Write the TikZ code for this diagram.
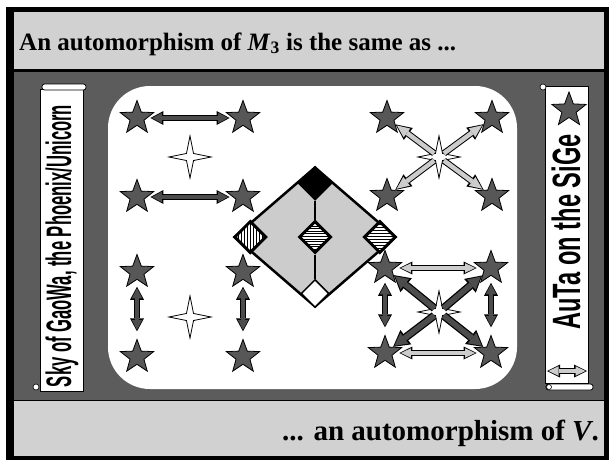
\documentclass[tikz,border=0pt]{standalone}
\usepackage{fontspec}
\setmainfont{Liberation Serif}
\newfontfamily\scrollfont{Liberation Sans}
\usetikzlibrary{arrows.meta, positioning, shapes.geometric, patterns}

\definecolor{bandlight}{gray}{0.82}
\definecolor{banddark}{gray}{0.36}
\definecolor{starfill}{gray}{0.34}
\definecolor{latticefill}{gray}{0.80}
\definecolor{arrowdark}{gray}{0.30}
\definecolor{arrowlight}{gray}{0.80}

% stripes and waves for the atoms
\pgfdeclarepatternformonly{vstripes}{\pgfpoint{0pt}{-0.5pt}}{\pgfpoint{3pt}{3.5pt}}{\pgfpoint{3pt}{3pt}}{
  \pgfsetlinewidth{1.3pt}
  \pgfpathmoveto{\pgfpoint{1.5pt}{-0.5pt}}
  \pgfpathlineto{\pgfpoint{1.5pt}{3.5pt}}
  \pgfusepath{stroke}}
\pgfdeclarepatternformonly{hstripes}{\pgfpoint{-0.5pt}{0pt}}{\pgfpoint{3.5pt}{3pt}}{\pgfpoint{3pt}{3pt}}{
  \pgfsetlinewidth{1.3pt}
  \pgfpathmoveto{\pgfpoint{-0.5pt}{1.5pt}}
  \pgfpathlineto{\pgfpoint{3.5pt}{1.5pt}}
  \pgfusepath{stroke}}
\pgfdeclarepatternformonly{waves}{\pgfpoint{0pt}{-1pt}}{\pgfpoint{4pt}{2.2pt}}{\pgfpoint{4pt}{2.6pt}}{
  \pgfsetlinewidth{0.7pt}
  \pgfpathmoveto{\pgfpoint{0pt}{0.5pt}}
  \pgfpathcurveto{\pgfpoint{0.7pt}{1.4pt}}{\pgfpoint{1.3pt}{1.4pt}}{\pgfpoint{2pt}{0.5pt}}
  \pgfpathcurveto{\pgfpoint{2.7pt}{-0.4pt}}{\pgfpoint{3.3pt}{-0.4pt}}{\pgfpoint{4pt}{0.5pt}}
  \pgfusepath{stroke}}

\begin{document}
\begin{tikzpicture}[
        x=1pt, y=-1pt,
        fivestar/.style={star, star points=5, star point ratio=2.4, minimum size=35pt, inner sep=0pt, draw=black, line width=0.8pt, fill=starfill},
        sparkle/.style={star, star points=4, star point ratio=4.2, minimum size=42pt, inner sep=0pt, draw=black, line width=0.8pt, fill=white},
        elem/.style={diamond, draw=black, line width=3pt, minimum size=32pt, inner sep=0pt},
        darkarrow/.style={draw=black, line width=6pt, shorten <=#1, shorten >=#1,
            {Triangle[length=13pt, width=14pt, line width=0pt]}-{Triangle[length=13pt, width=14pt, line width=0pt]},
            postaction={draw=arrowdark, line width=4pt, shorten <=#1+1.5pt, shorten >=#1+1.5pt,
            {Triangle[length=10pt, width=10.5pt, line width=0pt]}-{Triangle[length=10pt, width=10.5pt, line width=0pt]}}},
        darkarrow/.default=0pt,
        lightarrow/.style={draw=black, line width=5.5pt, shorten <=#1, shorten >=#1,
            {Triangle[length=13pt, width=13pt, line width=0pt]}-{Triangle[length=13pt, width=13pt, line width=0pt]},
            postaction={draw=arrowlight, line width=3.5pt, shorten <=#1+1.5pt, shorten >=#1+1.5pt,
            {Triangle[length=10pt, width=9.5pt, line width=0pt]}-{Triangle[length=10pt, width=9.5pt, line width=0pt]}}},
        lightarrow/.default=0pt,
        darkray/.style={draw=black, line width=8pt, -{Triangle[length=16pt, width=18pt, line width=0pt]},
            postaction={draw=arrowdark, line width=5.5pt, shorten >=1.8pt, -{Triangle[length=12.5pt, width=13.5pt, line width=0pt]}}},
        lightray/.style={draw=black, line width=6.5pt, -{Triangle[length=16pt, width=15pt, line width=0pt]},
            postaction={draw=arrowlight, line width=4.5pt, shorten >=1.8pt, -{Triangle[length=12.5pt, width=11pt, line width=0pt]}}}
    ]
        \useasboundingbox (0,0) rectangle (613,463);

        % Frame and bands
        \fill[black] (6,7) rectangle (609,460);
        \fill[bandlight] (14,12) rectangle (604,69);
        \fill[banddark] (14,72) rectangle (604,400);
        \fill[bandlight] (14,401) rectangle (604,456);
        \fill[white, rounded corners=42pt] (108,86) rectangle (517,389);

        % Scrolls
        \draw[fill=white, line width=0.8pt] (40,89) rectangle (83,391);
        \draw[fill=white, line width=0.8pt, rounded corners=2.5pt] (42,84) rectangle (86,90);
        \draw[fill=white, line width=0.6pt] (36,387) circle (3);
        \draw[fill=white, line width=0.8pt] (545,86) rectangle (588,383);
        \draw[fill=white, line width=0.6pt] (543,87) circle (3);
        \draw[fill=white, line width=0.8pt, rounded corners=2.5pt] (546,384) rectangle (593,390);
        \draw[fill=white, line width=0.6pt] (549,387) circle (2.5);

        % Texts
        \node[anchor=base west, inner sep=0pt, font=\bfseries\fontsize{25}{30}\selectfont] (headline) at (19,50) {An automorphism of \textit{M}\textsubscript{3} is the same as ...};
        \node[anchor=base east, inner sep=0pt, font=\bfseries\fontsize{29}{34}\selectfont] (footline) at (599,440) {... an automorphism of \textit{V}.};
        \node[rotate=90, inner sep=0pt] (skyname) at (62,246) {\resizebox*{282pt}{33pt}{\scrollfont\bfseries Sky of GaoWa, the Phoenix/Unicorn}};
        \node[rotate=90, inner sep=0pt] (autaname) at (566,232) {\resizebox*{195pt}{29pt}{\scrollfont\bfseries AuTa on the SiGe}};
        \node[fivestar, minimum size=36pt] (Sr) at (569,110) {};
        \coordinate (ra) at (547,371);
        \coordinate (rb) at (587,371);
        \draw[lightarrow] (ra) -- (rb);

        % Lattice M3
        \node[diamond, draw=black, line width=2.5pt, fill=latticefill, minimum width=162pt, minimum height=140pt, inner sep=0pt] (M3) at (315,237) {};
        \node[elem, fill=black, anchor=north] (top) at (M3.north) {};
        \node[elem, preaction={fill=white}, pattern=vstripes, anchor=west] (left) at (M3.west) {};
        \node[elem, preaction={fill=white}, pattern=hstripes, anchor=east] (right) at (M3.east) {};
        \node[elem, preaction={fill=white}, pattern=waves] (mid) at (M3.center) {};
        \node[elem, fill=white, line width=1.5pt, minimum size=28pt, anchor=south] (bot) at (M3.south) {};
        \draw[line width=1.6pt] (top) -- (mid);
        \draw[line width=1.6pt] (mid) -- (bot);

        % Stars
        \node[fivestar] (S1) at (137,118) {};
        \node[fivestar] (S2) at (243,118) {};
        \node[fivestar] (S3) at (137,197) {};
        \node[fivestar] (S4) at (243,197) {};
        \node[sparkle] (C1) at (190,157) {};

        \node[fivestar] (S5) at (387,118) {};
        \node[fivestar] (S6) at (492,118) {};
        \node[fivestar] (S7) at (387,196) {};
        \node[fivestar] (S8) at (492,196) {};
        \node[sparkle, minimum size=24pt, star point ratio=2.5, rotate=45] (C2b) at (439,157) {};
        \node[sparkle] (C2) at (439,157) {};

        \node[fivestar] (S9) at (137,272) {};
        \node[fivestar] (S10) at (243,272) {};
        \node[fivestar] (S11) at (137,357) {};
        \node[fivestar] (S12) at (243,357) {};
        \node[sparkle] (C3) at (190,317) {};

        \node[fivestar] (S13) at (385,268) {};
        \node[fivestar] (S14) at (491,268) {};
        \node[fivestar] (S15) at (385,353) {};
        \node[fivestar] (S16) at (491,353) {};
        \node[sparkle, minimum size=24pt, star point ratio=2.5, rotate=45] (C4b) at (439,312) {};
        \node[sparkle] (C4) at (439,312) {};

        % Arrows
        \draw[darkarrow=3pt] (S1) -- (S2);
        \draw[darkarrow=3pt] (S3) -- (S4);
        \draw[darkarrow=7pt] (S9) -- (S11);
        \draw[darkarrow=7pt] (S10) -- (S12);
        \foreach \s in {S5,S6,S7,S8}
            \draw[lightray] (C2) -- (\s);
        \draw[lightarrow=4pt] (S13) -- (S14);
        \draw[lightarrow=4pt] (S15) -- (S16);
        \draw[darkarrow=7pt] (S13) -- (S15);
        \draw[darkarrow=7pt] (S14) -- (S16);
        \foreach \s in {S13,S14,S15,S16}
            \draw[darkray] (C4) -- (\s);

    \end{tikzpicture}
\end{document}
